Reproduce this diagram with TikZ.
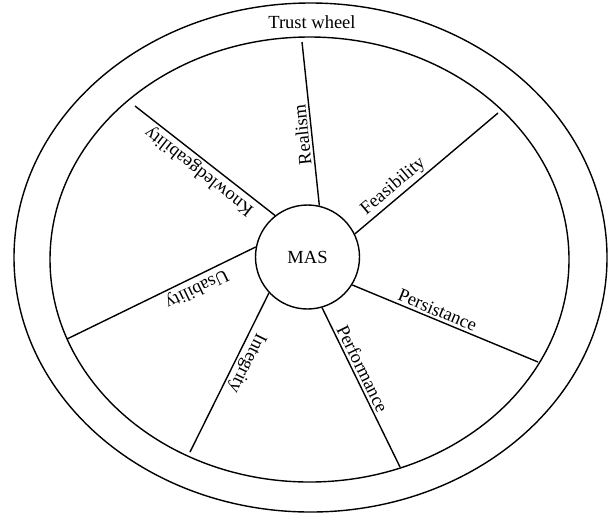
\documentclass[tikz,border=0pt]{standalone}
\usepackage{fontspec}
\setmainfont{Liberation Serif}

\begin{document}
\begin{tikzpicture}[
    x=0.5pt, y=-0.5pt,
    wheel/.style={draw, line width=0.7pt},
    hub/.style={draw, circle, line width=0.7pt, minimum size=52pt, inner sep=0pt,
      font=\fontsize{9.25}{11}\selectfont},
    spoke/.style={line width=0.7pt},
    spokelabel/.style={sloped, allow upside down, above, inner sep=1.2pt,
      font=\fontsize{9.25}{11}\selectfont}
  ]
    \useasboundingbox (0,0) rectangle (608,515);

    % rim of the wheel
    \draw[wheel] (310.5,257.5) ellipse [x radius=296.5, y radius=254.5];
    \draw[wheel] (309.5,259.5) ellipse [x radius=259.5, y radius=222.5];
    \node[font=\fontsize{9.25}{11}\selectfont] (title) at (312,22) {Trust wheel};

    % hub
    \node[hub] (mas) at (307.5,257) {MAS};

    % outer ends of the spokes
    \coordinate (realismEnd) at (302,42);
    \coordinate (feasEnd) at (498,113);
    \coordinate (persEnd) at (538,362);
    \coordinate (perfEnd) at (400,467);
    \coordinate (integEnd) at (190,452);
    \coordinate (usabEnd) at (67,339);
    \coordinate (knowEnd) at (135,106);

    \draw[spoke] (mas.77.5) -- node[spokelabel, pos=.44] {Realism} (realismEnd);
    \draw[spoke] (mas.26) -- node[spokelabel, pos=.32] {Feasibility} (feasEnd);
    \draw[spoke] (mas.-32) -- node[spokelabel, pos=.44] {Persistance} (persEnd);
    \draw[spoke] (mas.-74) -- node[spokelabel, pos=.41] {Performance} (perfEnd);
    \draw[spoke] (mas.-137) -- node[spokelabel, pos=.41] {Integrity} (integEnd);
    \draw[spoke] (mas.169) -- node[spokelabel, pos=.34] {Usability} (usabEnd);
    \draw[spoke] (mas.128) -- node[spokelabel, pos=.49] {Knowledgeability} (knowEnd);
  \end{tikzpicture}
\end{document}
